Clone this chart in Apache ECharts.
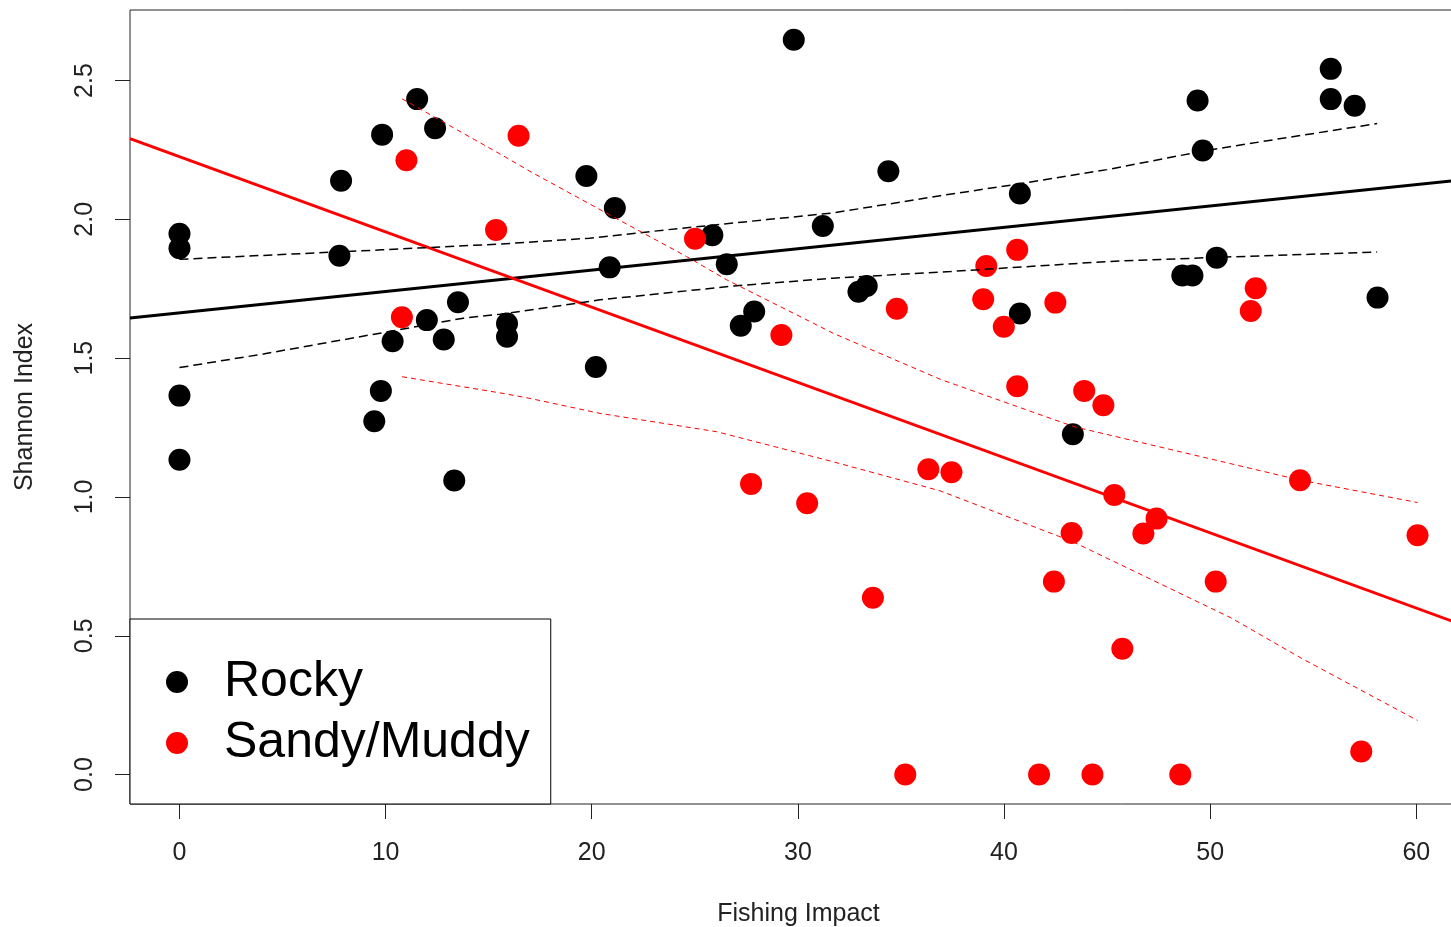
<!DOCTYPE html>
<html>
<head>
<meta charset="utf-8">
<title>Shannon Index vs Fishing Impact</title>
<script src="https://cdn.jsdelivr.net/npm/echarts@6/dist/echarts.min.js"></script>
<style>
  html, body { margin: 0; padding: 0; background: #fff; }
  #chart { width: 1451px; height: 927px; }
</style>
</head>
<body>
<div id="chart"></div>
<script>
// Axis extents and tick values
const xRange = [-2.4, 62.46];
const yRange = [-0.106, 2.754];
const xTicks = [0, 10, 20, 30, 40, 50, 60];
const yTicks = [0, 0.5, 1.0, 1.5, 2.0, 2.5];

// Rocky sites: fishing impact
const rockyX = [0, 0, 0, 0, 7.84, 7.76, 9.83, 11.53, 12.4, 9.77, 9.45, 10.34, 12.0, 12.82, 13.51, 13.33,
  15.89, 15.89, 19.74, 21.12, 20.87, 20.2, 25.85, 26.55, 27.23, 27.88, 29.8, 31.21, 32.94, 33.34, 34.39,
  40.77, 40.77, 43.34, 49.39, 49.64, 48.65, 49.14, 50.32, 55.85, 55.85, 57.01, 58.12];
// Rocky sites: Shannon index
const rockyY = [1.948, 1.896, 1.365, 1.134, 2.139, 1.869, 2.305, 2.433, 2.328, 1.382, 1.273, 1.561, 1.637, 1.567, 1.701, 1.059,
  1.625, 1.577, 2.156, 2.041, 1.827, 1.468, 1.943, 1.838, 1.617, 1.668, 2.647, 1.976, 1.739, 1.760, 2.173,
  2.093, 1.661, 1.226, 2.428, 2.248, 1.798, 1.798, 1.862, 2.542, 2.433, 2.409, 1.718];

// Sandy/Muddy sites: fishing impact
const sandyX = [11.01, 16.45, 15.36, 10.79, 25.01, 29.2, 34.8, 27.73, 30.45, 36.33, 37.45, 33.64,
  35.21, 41.7, 44.29, 48.55, 39.14, 40.64, 38.99, 42.49, 39.99, 40.64, 43.89, 44.82,
  45.35, 47.4, 46.76, 43.28, 42.42, 50.27, 45.74, 57.33, 54.36, 52.21, 51.97, 60.06];
// Sandy/Muddy sites: Shannon index
const sandyY = [2.213, 2.301, 1.962, 1.647, 1.930, 1.583, 1.678, 1.047, 0.977, 1.100, 1.089, 0.637,
  0, 0, 0, 0, 1.832, 1.890, 1.712, 1.700, 1.613, 1.399, 1.382, 1.330,
  1.007, 0.922, 0.868, 0.870, 0.695, 0.695, 0.453, 0.083, 1.060, 1.752, 1.670, 0.862];

// Fitted regression lines (values at the plot edges)
const rockyFitX = [-2.4, 62.46];
const rockyFitY = [1.645, 2.144];
const sandyFitX = [-2.4, 62.46];
const sandyFitY = [2.291, 0.533];

// Confidence bands, Rocky
const rockyBandX = [0, 9.8, 15.55, 19.9, 23.6, 28.5, 31.7, 36.9, 40.75, 45.0, 49.6, 53.1, 58.1];
const rockyUpper = [1.856, 1.89, 1.911, 1.932, 1.962, 1.999, 2.023, 2.085, 2.128, 2.179, 2.245, 2.287, 2.345];
const rockyLowerX = [0, 4.07, 9.73, 13.77, 15.55, 20.4, 26.9, 31.7, 37.4, 45.0, 50.3, 58.1];
const rockyLower = [1.466, 1.515, 1.59, 1.644, 1.658, 1.710, 1.760, 1.788, 1.812, 1.848, 1.863, 1.882];

// Confidence bands, Sandy/Muddy
const sandyUpperX = [10.8, 15.7, 17.0, 20.4, 24.6, 26.55, 30.1, 31.7, 36.9, 43.4, 54.35, 60.06];
const sandyUpper = [2.434, 2.229, 2.173, 2.035, 1.866, 1.782, 1.650, 1.590, 1.424, 1.253, 1.061, 0.980];
const sandyLowerX = [10.8, 15.7, 17.0, 20.4, 26.06, 31.7, 36.9, 43.3, 51.0, 54.4, 60.06];
const sandyLower = [1.433, 1.373, 1.355, 1.301, 1.235, 1.127, 1.022, 0.84, 0.565, 0.42, 0.195];

const zip = (xs, ys) => xs.map((x, i) => [x, ys[i]]);

const FONT = "'Liberation Sans', Arial, sans-serif";
const AXIS_COLOR = '#222';

const chart = echarts.init(document.getElementById('chart'), null, { renderer: 'canvas' });

function band(name, xs, ys, color, width, dash) {
  return {
    name: name,
    type: 'line',
    data: zip(xs, ys),
    symbol: 'none',
    silent: true,
    z: 4,
    lineStyle: { color: color, width: width, type: dash }
  };
}

chart.setOption({
  animation: false,
  backgroundColor: '#fff',
  grid: {
    left: 130, top: 10, bottom: 123, right: -16,
    containLabel: false,
    outerBoundsMode: 'none',
    show: true,
    borderColor: AXIS_COLOR,
    borderWidth: 1
  },
  xAxis: {
    type: 'value',
    min: xRange[0], max: xRange[1],
    axisLine: { show: false, onZero: false },
    axisTick: { show: true, length: 15, customValues: xTicks, lineStyle: { color: AXIS_COLOR, width: 1 } },
    axisLabel: { customValues: xTicks, margin: 37, fontSize: 25, color: AXIS_COLOR, fontFamily: FONT },
    splitLine: { show: false },
    name: 'Fishing Impact',
    nameLocation: 'middle',
    nameGap: 98,
    nameTextStyle: { fontSize: 25, color: AXIS_COLOR, fontFamily: FONT }
  },
  yAxis: {
    type: 'value',
    min: yRange[0], max: yRange[1],
    axisLine: { show: false, onZero: false },
    axisTick: { show: true, length: 15, customValues: yTicks, lineStyle: { color: AXIS_COLOR, width: 1 } },
    axisLabel: {
      customValues: yTicks, rotate: 90, margin: 32, fontSize: 25, color: AXIS_COLOR, fontFamily: FONT,
      formatter: v => v.toFixed(1)
    },
    splitLine: { show: false },
    name: 'Shannon Index',
    nameLocation: 'middle',
    nameGap: 92,
    nameTextStyle: { fontSize: 25, color: AXIS_COLOR, fontFamily: FONT }
  },
  legend: {
    data: [{ name: 'Rocky', icon: 'circle' }, { name: 'Sandy/Muddy', icon: 'circle' }],
    orient: 'vertical',
    left: 130, top: 619,
    padding: [38, 21, 36, 36],
    itemWidth: 84, itemHeight: 22, itemGap: 11,
    symbolKeepAspect: true,
    borderColor: '#000', borderWidth: 1,
    backgroundColor: '#fff',
    selectedMode: false,
    textStyle: { fontSize: 50, lineHeight: 50, color: '#000', fontFamily: FONT }
  },
  series: [
    {
      name: 'Rocky',
      type: 'scatter',
      data: zip(rockyX, rockyY),
      symbol: 'circle',
      symbolSize: 22,
      z: 2,
      itemStyle: { color: '#000', opacity: 1 }
    },
    {
      name: 'Sandy/Muddy',
      type: 'scatter',
      data: zip(sandyX, sandyY),
      symbol: 'circle',
      symbolSize: 22,
      z: 2,
      itemStyle: { color: '#ff0000', opacity: 1 }
    },
    band('Rocky fit', rockyFitX, rockyFitY, '#000', 3, 'solid'),
    band('Sandy/Muddy fit', sandyFitX, sandyFitY, '#ff0000', 3, 'solid'),
    band('Rocky upper', rockyBandX, rockyUpper, '#000', 1.5, [9, 5]),
    band('Rocky lower', rockyLowerX, rockyLower, '#000', 1.5, [9, 5]),
    band('Sandy/Muddy upper', sandyUpperX, sandyUpper, '#ff0000', 1, [5, 4]),
    band('Sandy/Muddy lower', sandyLowerX, sandyLower, '#ff0000', 1, [5, 4])
  ]
});
</script>
</body>
</html>
